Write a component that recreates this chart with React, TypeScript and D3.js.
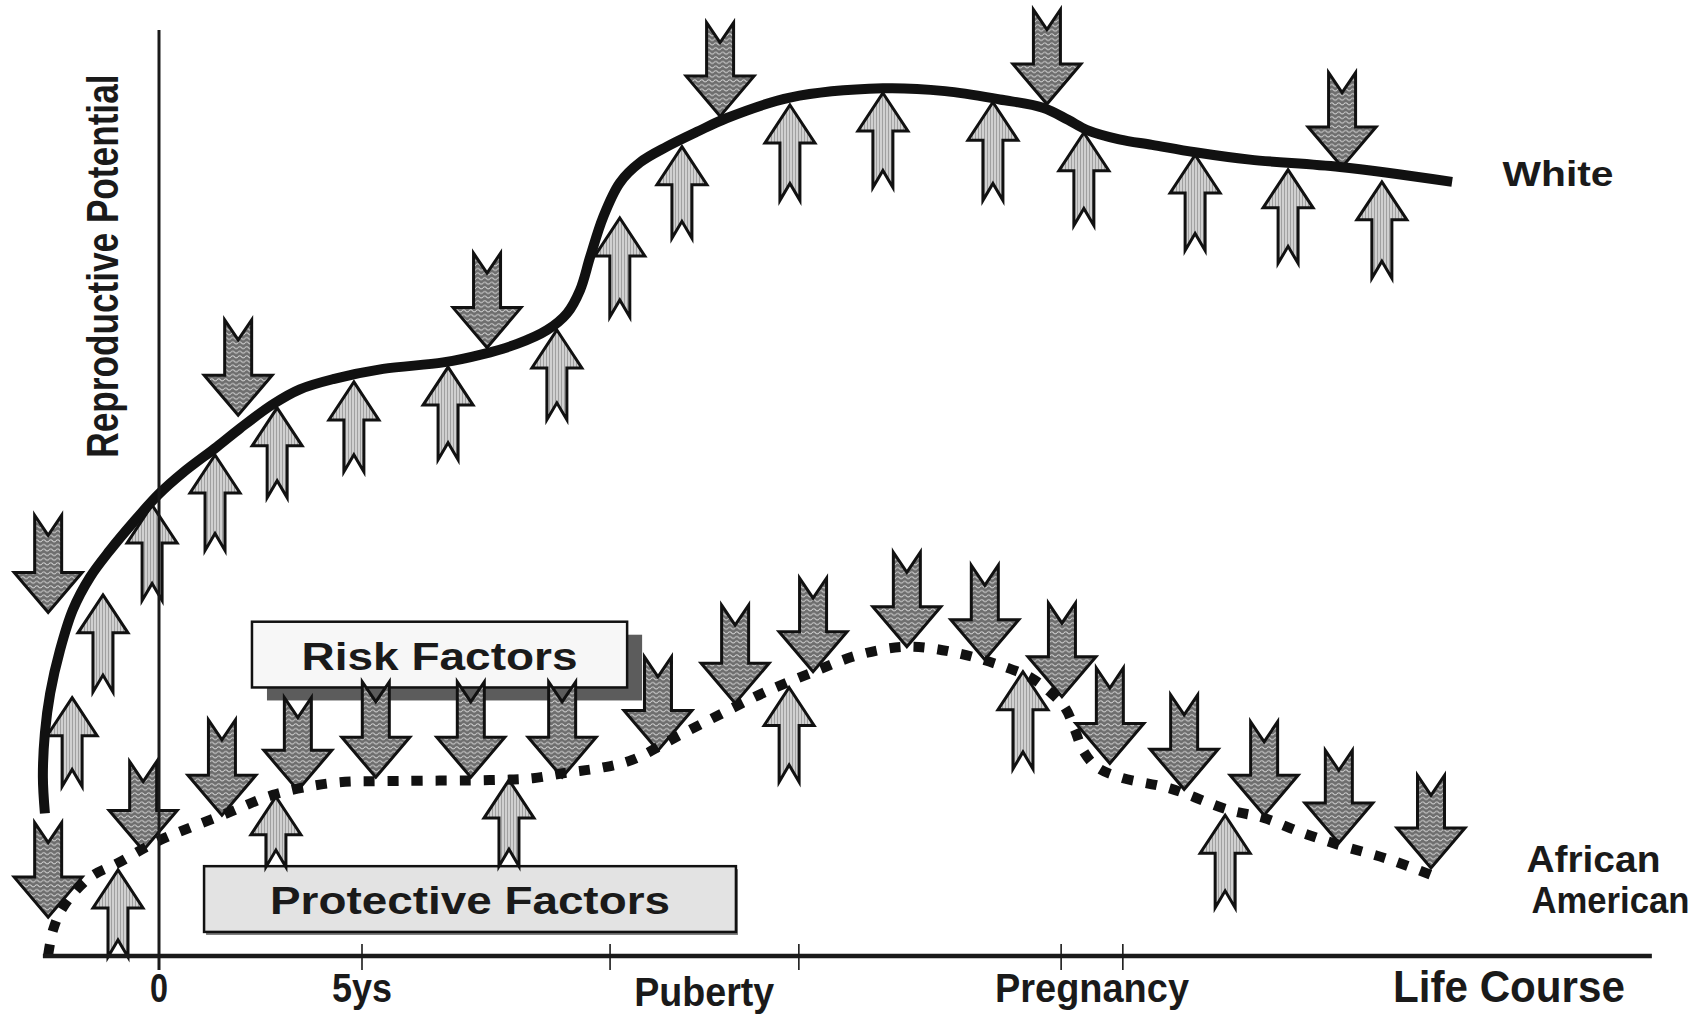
import React from 'react';
import * as d3 from 'd3';

const W = 1704;
const H = 1020;

// Curves: [life-course position, reproductive potential]
const whiteCurve: [number, number][] = [
  [-2.81, 15.4], [-2.86, 19.3], [-2.81, 24.1], [-2.68, 28.4], [-2.44, 33.0], [-2.12, 37.4],
  [-1.70, 40.9], [-1.21, 43.8], [-0.64, 46.8], [0, 49.9], [0.59, 52.2], [1.43, 55.0],
  [2.00, 57.0], [2.81, 59.6], [3.47, 61.2], [4.29, 62.3], [5.52, 63.4], [7.00, 64.1],
  [7.98, 65.0], [8.82, 66.1], [9.56, 67.6], [10.05, 69.4], [10.37, 71.9], [10.62, 75.5],
  [10.94, 79.8], [11.35, 83.5], [11.85, 85.7], [12.51, 87.4], [13.25, 89.0], [13.99, 90.5],
  [15.54, 92.7], [17.83, 93.7], [19.36, 93.4], [20.71, 92.5], [21.77, 91.6], [22.39, 90.3],
  [22.86, 89.2], [23.65, 88.2], [24.46, 87.6], [25.52, 86.8], [26.87, 86.0], [29.09, 85.2],
  [31.85, 83.6],
];

const africanAmericanCurve: [number, number][] = [
  [-2.73, 0.1], [-2.61, 2.8], [-2.36, 5.3], [-1.70, 8.5], [-1.03, 10.0], [0.02, 12.5],
  [1.67, 15.4], [2.81, 17.4], [4.29, 18.7], [5.94, 18.9], [8.15, 19.0], [9.21, 19.2],
  [10.05, 19.8], [10.86, 20.3], [11.67, 21.2], [12.76, 23.7], [13.87, 26.2], [14.93, 28.5],
  [16.08, 30.6], [17.22, 32.5], [18.45, 33.4], [19.68, 32.7], [20.91, 31.1], [21.50, 30.0],
  [21.95, 28.5], [22.32, 26.8], [22.56, 24.4], [22.76, 22.2], [23.10, 20.4], [23.67, 19.3],
  [24.90, 18.1], [26.33, 15.8], [27.22, 14.9], [28.10, 13.4], [29.06, 12.0], [30.32, 10.4],
  [31.48, 8.5],
];

// Risk factor arrows (pointing down): [position, tail top, tip]
const whiteRisk: [number, number, number][] = [
  [-2.73, 47.6, 37.1], [1.95, 68.7, 58.4], [8.08, 75.9, 65.7],
  [13.82, 100.8, 90.7], [21.87, 102.2, 92.0], [29.14, 95.4, 85.2],
];
// Protective factor arrows (pointing up): [position, tip, tail bottom]
const whiteProtective: [number, number, number][] = [
  [-2.14, 27.9, 18.3], [-1.38, 39.0, 28.5], [-0.17, 48.7, 38.4], [1.38, 54.1, 43.8],
  [2.91, 59.2, 49.5], [4.80, 62.0, 52.3], [7.12, 63.6, 53.6], [9.80, 67.6, 57.9],
  [11.35, 79.7, 69.0], [12.88, 87.4, 77.5], [15.54, 91.9, 81.6], [17.83, 93.2, 83.0],
  [20.54, 92.2, 81.6], [22.78, 88.9, 78.9], [25.52, 86.5, 76.2], [27.81, 84.9, 74.8],
  [30.12, 83.6, 73.2],
];
const aaRisk: [number, number, number][] = [
  [-2.73, 14.4, 4.2], [-0.39, 21.0, 11.4], [1.55, 25.5, 15.2], [3.42, 27.9, 17.9],
  [5.34, 29.6, 19.3], [7.68, 29.6, 19.3], [9.93, 29.6, 19.3], [12.29, 32.3, 22.2],
  [14.19, 37.9, 27.3], [16.11, 40.8, 30.7], [18.42, 43.6, 33.4], [20.34, 42.2, 32.0],
  [22.24, 38.1, 28.0], [23.42, 31.1, 20.8], [25.25, 28.2, 18.0], [27.22, 25.3, 15.2],
  [29.06, 22.2, 12.2], [31.33, 19.5, 9.5],
];
const aaProtective: [number, number, number][] = [
  [-1.01, 9.3, -0.1], [2.88, 17.2, 9.6], [8.62, 19.0, 9.7],
  [15.52, 29.0, 18.8], [21.28, 30.7, 20.2], [26.26, 15.2, 5.2],
];

const tickValues = [5, 11.11, 15.76, 22.22, 23.74];
const axisLabels = ['0', '5ys', 'Puberty', 'Pregnancy'];
const axisLabelPos = [0, 5, 13.43, 22.98];
const axisLabelWidth = [18, 60, 140, 194];
const axisTitle = 'Life Course';
const yTitle = 'Reproductive Potential';
const seriesNames = ['White', 'African', 'American'];

// Annotation boxes: [x0, x1, top, bottom]
const riskBox = [2.29, 11.53, 36.1, 29.0];
const protectiveBox = [1.11, 14.21, 9.7, 2.6];

const FONT = '"Liberation Sans", Arial, Helvetica, sans-serif';

export default function App() {
  const x = d3.scaleLinear().domain([0, 5]).range([159, 362]);
  const y = d3.scaleLinear().domain([0, 100]).range([956, 30]);

  const line = d3
    .line<[number, number]>()
    .x((d) => x(d[0]))
    .y((d) => y(d[1]))
    .curve(d3.curveCatmullRom.alpha(0.5));

  const downArrow = (cx: number, yTop: number, yTip: number) => {
    const s = 13.5, h = 34, L = 40, n = 20;
    return `M${cx - s},${yTop} L${cx},${yTop + n} L${cx + s},${yTop} L${cx + s},${yTip - L} L${cx + h},${yTip - L} L${cx},${yTip} L${cx - h},${yTip - L} L${cx - s},${yTip - L} Z`;
  };
  const upArrow = (cx: number, yTip: number, yBot: number) => {
    const s = 10, h = 25, L = 38, n = 17;
    return `M${cx},${yTip} L${cx + h},${yTip + L} L${cx + s},${yTip + L} L${cx + s},${yBot} L${cx},${yBot - n} L${cx - s},${yBot} L${cx - s},${yTip + L} L${cx - h},${yTip + L} Z`;
  };

  const riskArrows = [...whiteRisk, ...aaRisk];
  const protArrows = [...whiteProtective, ...aaProtective];

  const axisY = y(0);
  const rb = { x0: x(riskBox[0]), x1: x(riskBox[1]), y0: y(riskBox[2]), y1: y(riskBox[3]) };
  const pb = { x0: x(protectiveBox[0]), x1: x(protectiveBox[1]), y0: y(protectiveBox[2]), y1: y(protectiveBox[3]) };

  return (
    <svg
      width={W}
      height={H}
      viewBox={`0 0 ${W} ${H}`}
      style={{ position: 'absolute', left: 0, top: 0, display: 'block', background: '#fff' }}
    >
      <defs>
        <pattern id="riskFill" patternUnits="userSpaceOnUse" width="7" height="4.6">
          <rect width="7" height="4.6" fill="#6e6e6e" />
          <path d="M0,2.6 Q1.75,0.6 3.5,2.6 T7,2.6" fill="none" stroke="#d0d0d0" strokeWidth="1.1" />
        </pattern>
        <pattern id="protFill" patternUnits="userSpaceOnUse" width="3" height="6">
          <rect width="3" height="6" fill="#d0d0d0" />
          <rect x="0" width="1" height="6" fill="#a0a0a0" />
        </pattern>
      </defs>
      <rect width={W} height={H} fill="#fff" />

      {/* Boxes */}
      <rect x={rb.x0 + 15} y={rb.y0 + 13} width={rb.x1 - rb.x0} height={rb.y1 - rb.y0} fill="#5c5c5c" />
      <rect x={rb.x0} y={rb.y0} width={rb.x1 - rb.x0} height={rb.y1 - rb.y0} fill="#f7f7f7" stroke="#111" strokeWidth={2.5} />
      <text
        x={(rb.x0 + rb.x1) / 2}
        y={(rb.y0 + rb.y1) / 2 + 15}
        textAnchor="middle"
        fontFamily={FONT}
        fontWeight="bold"
        fontSize={38}
        fill="#1a1a1a"
        textLength={276}
        lengthAdjust="spacingAndGlyphs"
      >
        Risk Factors
      </text>
      <rect x={pb.x0 + 2} y={pb.y0 + 3} width={pb.x1 - pb.x0} height={pb.y1 - pb.y0} fill="#777" />
      <rect x={pb.x0} y={pb.y0} width={pb.x1 - pb.x0} height={pb.y1 - pb.y0} fill="#e3e3e3" stroke="#111" strokeWidth={2.5} />
      <text
        x={(pb.x0 + pb.x1) / 2}
        y={(pb.y0 + pb.y1) / 2 + 15}
        textAnchor="middle"
        fontFamily={FONT}
        fontWeight="bold"
        fontSize={38}
        fill="#1a1a1a"
        textLength={400}
        lengthAdjust="spacingAndGlyphs"
      >
        Protective Factors
      </text>

      {/* Arrows */}
      {protArrows.map((a, i) => (
        <path key={'p' + i} d={upArrow(x(a[0]), y(a[1]), y(a[2]))} fill="url(#protFill)" stroke="#111" strokeWidth={3} strokeLinejoin="miter" />
      ))}
      {riskArrows.map((a, i) => (
        <path key={'r' + i} d={downArrow(x(a[0]), y(a[1]), y(a[2]))} fill="url(#riskFill)" stroke="#111" strokeWidth={3} strokeLinejoin="miter" />
      ))}

      {/* Curves */}
      <path d={line(whiteCurve) || ''} fill="none" stroke="#111" strokeWidth={10} strokeLinecap="butt" />
      <path
        d={line(africanAmericanCurve) || ''}
        fill="none"
        stroke="#111"
        strokeWidth={10}
        strokeDasharray="11 13"
        strokeLinecap="butt"
      />

      {/* Axes */}
      <line x1={x(-2.86)} x2={x(36.77)} y1={axisY} y2={axisY} stroke="#1a1a1a" strokeWidth={4.5} />
      <line x1={x(0)} x2={x(0)} y1={y(100)} y2={y(-1.5)} stroke="#1a1a1a" strokeWidth={3} />
      {tickValues.map((t, i) => (
        <line key={'t' + i} x1={x(t)} x2={x(t)} y1={axisY - 12} y2={axisY + 14} stroke="#1a1a1a" strokeWidth={1.6} />
      ))}
      {axisLabels.map((l, i) => (
        <text
          key={'l' + i}
          x={x(axisLabelPos[i])}
          y={axisY + (i === 2 ? 50 : 46)}
          textAnchor="middle"
          fontFamily={FONT}
          fontWeight="bold"
          fontSize={40}
          fill="#1a1a1a"
          textLength={axisLabelWidth[i]}
          lengthAdjust="spacingAndGlyphs"
        >
          {l}
        </text>
      ))}
      <text
        x={x(33.25)}
        y={axisY + 46}
        textAnchor="middle"
        fontFamily={FONT}
        fontWeight="bold"
        fontSize={45}
        fill="#1a1a1a"
        textLength={232}
        lengthAdjust="spacingAndGlyphs"
      >
        {axisTitle}
      </text>
      <g transform={`translate(${x(-1.01)},${y(74.5)}) rotate(-90) scale(0.8,1)`}>
        <text x={0} y={0} textAnchor="middle" fontFamily={FONT} fontWeight="bold" fontSize={44} fill="#1a1a1a">
          {yTitle}
        </text>
      </g>

      {/* Series labels */}
      <text x={x(34.46)} y={y(83.2)} textAnchor="middle" fontFamily={FONT} fontWeight="bold" fontSize={35} fill="#1a1a1a" textLength={111} lengthAdjust="spacingAndGlyphs">
        {seriesNames[0]}
      </text>
      <text x={x(35.33)} y={y(9.1)} textAnchor="middle" fontFamily={FONT} fontWeight="bold" fontSize={36} fill="#1a1a1a" textLength={134} lengthAdjust="spacingAndGlyphs">
        {seriesNames[1]}
      </text>
      <text x={x(35.75)} y={y(4.6)} textAnchor="middle" fontFamily={FONT} fontWeight="bold" fontSize={36} fill="#1a1a1a" textLength={158} lengthAdjust="spacingAndGlyphs">
        {seriesNames[2]}
      </text>
    </svg>
  );
}
